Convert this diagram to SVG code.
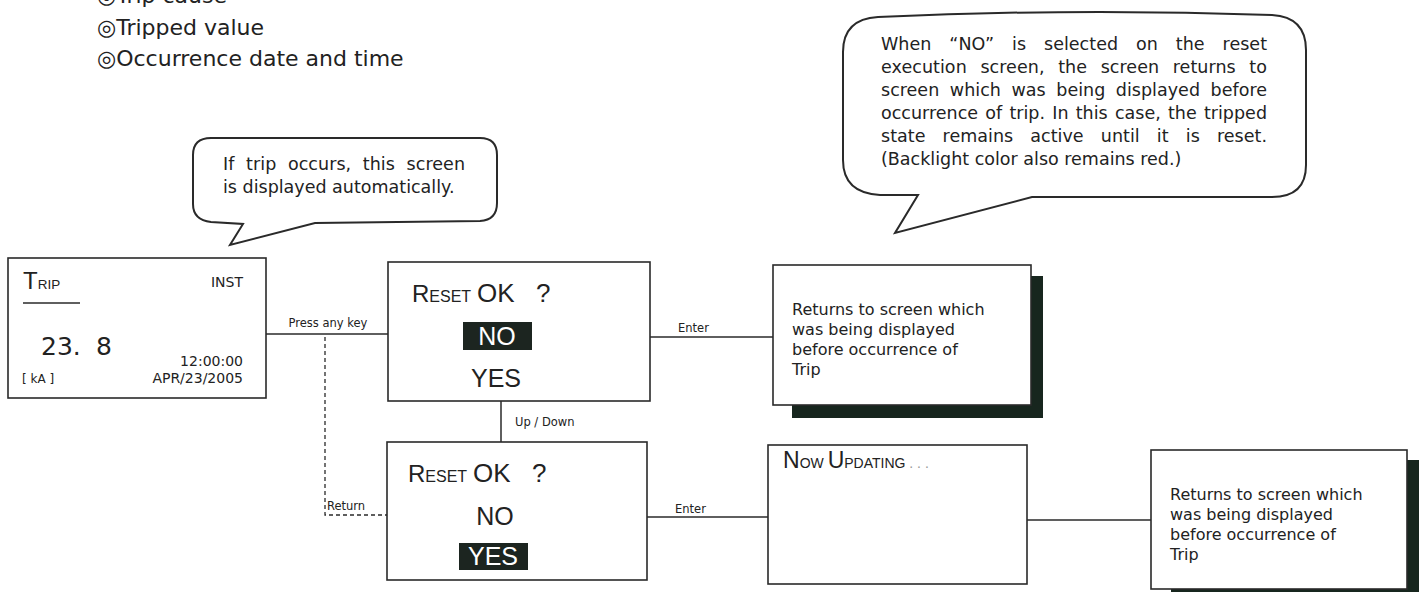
<svg xmlns="http://www.w3.org/2000/svg" width="1419" height="592" viewBox="0 0 1419 592">
<style>
text{font-family:"DejaVu Sans","Noto Sans CJK JP",sans-serif;fill:#222}
.lib{font-family:"Liberation Sans","Noto Sans CJK JP",sans-serif}
.box{fill:#fff;stroke:#2a2a2a;stroke-width:1.6}
.shadow{fill:#17261e}
.bub{fill:#fff;stroke:#2a2a2a;stroke-width:2}
.ln{stroke:#2a2a2a;stroke-width:1.5;fill:none}
.dash{stroke:#2a2a2a;stroke-width:1.3;fill:none;stroke-dasharray:4 3}
.lbl{font-size:11.5px}
.note{font-size:17.5px}
.ret{font-size:16px}
.hl{fill:#1c2520}
.wt{fill:#fff}
</style>
<rect width="1419" height="592" fill="#fff"/>
<g id="header" font-size="22">
<text x="97" y="3">◎Trip cause</text>
<text x="97" y="35">◎Tripped value</text>
<text x="97" y="66">◎Occurrence date and time</text>
</g>
<g id="bubble1">
<path class="bub" d="M211,138 H480 Q497,138 497,155 V203 Q497,220 480,221 L315,223 L230,245 L243,224 L211,222 Q193,220 193,204 V155 Q193,138 211,138 Z"/>
<text class="note" x="223" y="170" word-spacing="6" textLength="242" lengthAdjust="spacing">If trip occurs, this screen</text>
<text class="note" x="223" y="193">is displayed automatically.</text>
</g>
<g id="bubble2">
<path class="bub" d="M878,17 Q1075,8 1272,15 Q1306,17 1306,50 V165 Q1306,197 1272,197 L1032,197 L895,233 L918,195 L880,195 Q843,193 843,160 V52 Q843,19 878,17 Z"/>
<g class="note">
<text x="881" y="50" word-spacing="12.4" textLength="386" lengthAdjust="spacing">When “NO” is selected on the reset</text>
<text x="881" y="73" word-spacing="8" textLength="386" lengthAdjust="spacing">execution screen, the screen returns to</text>
<text x="881" y="96" word-spacing="5" textLength="386" lengthAdjust="spacing">screen which was being displayed before</text>
<text x="881" y="119" word-spacing="1.6" textLength="386" lengthAdjust="spacing">occurrence of trip. In this case, the tripped</text>
<text x="881" y="142" word-spacing="11.6" textLength="386" lengthAdjust="spacing">state remains active until it is reset.</text>
<text x="881" y="165">(Backlight color also remains red.)</text>
</g>
</g>
<g id="connectors">
<line class="ln" x1="266" y1="334" x2="388" y2="334"/>
<text class="lbl" x="328" y="327" text-anchor="middle">Press any key</text>
<polyline class="dash" points="325,337 325,515 387,515"/>
<text class="lbl" x="327" y="510">Return</text>
<line class="ln" x1="501" y1="401" x2="501" y2="442"/>
<text class="lbl" x="515" y="426">Up / Down</text>
<line class="ln" x1="650" y1="337" x2="773" y2="337"/>
<text class="lbl" x="678" y="332">Enter</text>
<line class="ln" x1="647" y1="517" x2="768" y2="517"/>
<text class="lbl" x="675" y="513">Enter</text>
<line class="ln" x1="1027" y1="520" x2="1151" y2="520"/>
</g>
<g id="trip">
<rect class="box" x="8" y="258" width="258" height="140"/>
<text class="lib" x="23" y="289"><tspan font-size="24">T</tspan><tspan font-size="13.5">RIP</tspan></text>
<line class="ln" x1="23" y1="303" x2="80" y2="303"/>
<text x="243" y="287" font-size="14" text-anchor="end">INST</text>
<text x="41" y="355" font-size="25">23.</text>
<text x="96" y="355" font-size="25">8</text>
<text x="243" y="366" font-size="14" text-anchor="end">12:00:00</text>
<text x="243" y="383" font-size="14" text-anchor="end">APR/23/2005</text>
<text x="22" y="383" font-size="12">[ kA ]</text>
</g>
<g id="reset-no">
<rect class="box" x="388" y="262" width="262" height="139"/>
<text class="lib" x="412" y="302"><tspan font-size="24">R</tspan><tspan font-size="16">ESET</tspan></text>
<text class="lib" x="477" y="302" font-size="26">OK</text>
<text class="lib" x="536" y="302" font-size="26">?</text>
<rect class="hl" x="463" y="322" width="69" height="28"/>
<text class="lib wt" x="497" y="345" font-size="25" text-anchor="middle">NO</text>
<text class="lib" x="496" y="387" font-size="25" text-anchor="middle">YES</text>
</g>
<g id="reset-yes">
<rect class="box" x="387" y="442" width="260" height="138"/>
<text class="lib" x="408" y="482"><tspan font-size="24">R</tspan><tspan font-size="16">ESET</tspan></text>
<text class="lib" x="473" y="482" font-size="26">OK</text>
<text class="lib" x="532" y="482" font-size="26">?</text>
<text class="lib" x="495" y="525" font-size="25" text-anchor="middle">NO</text>
<rect class="hl" x="459" y="543" width="69" height="27"/>
<text class="lib wt" x="493" y="565" font-size="25" text-anchor="middle">YES</text>
</g>
<g id="returns1">
<rect class="shadow" x="792" y="276" width="251" height="142"/>
<rect class="box" x="773" y="265" width="258" height="140"/>
<g class="ret">
<text x="792" y="315">Returns to screen which</text>
<text x="792" y="335">was being displayed</text>
<text x="792" y="355">before occurrence of</text>
<text x="792" y="375">Trip</text>
</g>
</g>
<g id="updating">
<rect class="box" x="768" y="445" width="259" height="139"/>
<text class="lib" x="783" y="468"><tspan font-size="23">N</tspan><tspan font-size="14">OW </tspan><tspan font-size="23">U</tspan><tspan font-size="14">PDATING</tspan><tspan font-size="14" fill="#999"> . . .</tspan></text>
</g>
<g id="returns2">
<rect class="shadow" x="1171" y="460" width="252" height="140"/>
<rect class="box" x="1151" y="450" width="256" height="139"/>
<g class="ret">
<text x="1170" y="500">Returns to screen which</text>
<text x="1170" y="520">was being displayed</text>
<text x="1170" y="540">before occurrence of</text>
<text x="1170" y="560">Trip</text>
</g>
</g>
</svg>
